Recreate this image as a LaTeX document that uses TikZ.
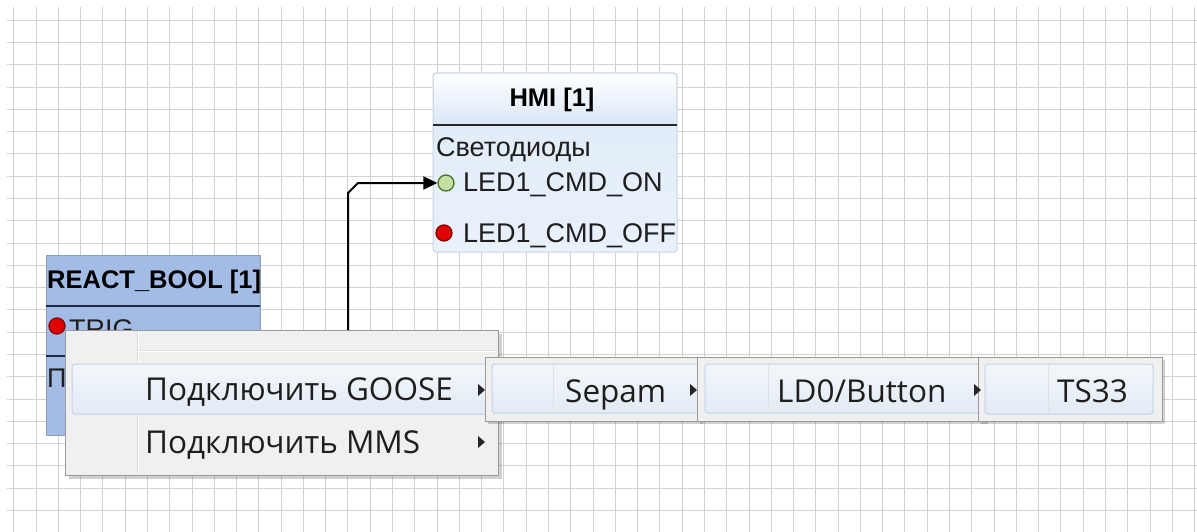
\documentclass[tikz,border=0pt]{standalone}
\usepackage{fontspec}
\setmainfont{Liberation Sans}
\newfontfamily\menufont{Open Sans}
\usetikzlibrary{arrows.meta}
\definecolor{gridc}{HTML}{D2D2D2}
\definecolor{hmiBorder}{HTML}{C9D3DE}
\definecolor{hmiHead}{HTML}{DAE7F6}
\definecolor{hmiBodyTop}{HTML}{DFEBF8}
\definecolor{hmiBodyBot}{HTML}{E9F1FB}
\definecolor{rbFill}{HTML}{A3BCE6}
\definecolor{rbBorder}{HTML}{8E9DB8}
\definecolor{rbSep}{HTML}{1C2748}
\definecolor{menuFill}{HTML}{F0F0F0}
\definecolor{menuBorder}{HTML}{9A9A9A}
\definecolor{hlTop}{HTML}{F3F7FB}
\definecolor{hlBot}{HTML}{E2EAF4}
\definecolor{hlBorder}{HTML}{BFD2E9}
\definecolor{ledRed}{HTML}{E00000}
\definecolor{ledRedD}{HTML}{8A0000}
\definecolor{ledGreen}{HTML}{C6DFA2}
\definecolor{ledGreenD}{HTML}{47752A}
\definecolor{txt}{HTML}{1E1E1E}
\tikzset{
  gridline/.style={gridc, line width=1},
  nodetext/.style={inner sep=0, anchor=base west, text=txt, font=\fontsize{27}{30}\selectfont},
  headtext/.style={inner sep=0, anchor=base, text=black, font=\bfseries\fontsize{25.5}{30}\selectfont},
  menutext/.style={inner sep=0, anchor=base west, text=txt, font=\menufont\fontsize{31.5}{34}\selectfont},
  led/.style={circle, inner sep=0, minimum size=16, line width=1.3},
  ledon/.style={led, fill=ledGreen, draw=ledGreenD},
  ledoff/.style={led, fill=ledRed, draw=ledRedD},
  conn/.style={black, line width=2, -{Triangle[length=14,width=13]}},
  menubox/.style={draw=menuBorder, fill=menuFill, line width=1},
  hlbox/.style={draw=hlBorder, rounded corners=3, top color=hlTop, bottom color=hlBot, line width=1},
  colsep/.style={draw=black!12, line width=1},
  subarrow/.style={fill=black!85},
}
\begin{document}
\begin{tikzpicture}[x=1pt,y=-1pt]
\useasboundingbox (0,0) rectangle (1197,532);
\fill[white] (0,0) rectangle (1197,532);
\begin{scope}
\clip (7,7) rectangle (1197,532);
\foreach \i in {0,...,53} {
  \pgfmathsetmacro{\gx}{round(13.3+22.28*\i)+0.5}
  \draw[gridline] (\gx,7) -- (\gx,532);
}
\foreach \j in {0,...,23} {
  \pgfmathsetmacro{\gy}{round(19.8+22.28*\j)+0.5}
  \draw[gridline] (7,\gy) -- (1197,\gy);
}
\end{scope}

% HMI block
\path[draw=hmiBorder, line width=1, rounded corners=3, top color=hmiBodyTop, bottom color=hmiBodyBot] (433,73) rectangle (677,252);
\shade[top color=white, bottom color=hmiHead, rounded corners=3] (434,74) rectangle (676,124);
\draw[black!85, line width=2] (433,125) -- (677,125);
\node[headtext] (hmititle) at (552,107) {HMI [1]};
\node[nodetext] (leds) at (436,157) {Светодиоды};
\node[ledon] (ledon) at (446,183) {};
\node[nodetext] (ledonlbl) at (463,192) {LED1\_CMD\_ON};
\node[ledoff] (ledoff) at (444,233) {};
\node[nodetext] (ledofflbl) at (463,242) {LED1\_CMD\_OFF};

% REACT_BOOL block
\path[draw=rbBorder, fill=rbFill, line width=1] (46,255) rectangle (260,435);
\draw[rbSep, line width=2] (46,306) -- (260,306);
\draw[rbSep, line width=2] (46,356) -- (260,356);
\node[headtext, anchor=base west] (rbtitle) at (47,288) {REACT\_BOOL [1]};
\node[ledoff] (trig) at (57,326) {};
\node[nodetext] (triglbl) at (69,338) {TRIG};
\node[nodetext] (plbl) at (47,387) {П};

% connector
\coordinate (src) at (348,345);
\coordinate (c1) at (348,193);
\coordinate (c2) at (358,183);
\draw[conn] (src) -- (c1) -- (c2) -- (ledon.west);

% context menu
\fill[black, opacity=0.18] (69,334) rectangle (502,479);
\path[menubox] (65,330) rectangle (498,475);
\draw[black!14, line width=1] (137,331) -- (137,474);
\draw[white, line width=1] (138.5,331) -- (138.5,474);
\draw[black!12, line width=1] (137,350) -- (496,350);
\draw[white, line width=1] (137,351.5) -- (496,351.5);
\path[hlbox] (72,364) rectangle (488,414);
\node[menutext] (goose) at (145,400) {Подключить GOOSE};
\node[menutext] (mms) at (145,453) {Подключить MMS};
\fill[subarrow] (478,384) -- (485,390) -- (478,396) -- cycle;
\fill[subarrow] (478,436) -- (485,442) -- (478,448) -- cycle;

% submenu Sepam
\fill[black, opacity=0.18] (488,360) rectangle (703,424);
\path[menubox] (485,357) rectangle (700,421);
\path[hlbox] (492,364) rectangle (703,413);
\draw[colsep] (553,366) -- (553,411);
\node[menutext] (sepam) at (565,402) {Sepam};

% submenu LD0
\fill[black, opacity=0.18] (700,360) rectangle (988,424);
\path[menubox] (697,357) rectangle (985,421);
\path[hlbox] (705,364) rectangle (984,413);
\draw[colsep] (768,366) -- (768,411);
\node[menutext] (ld0) at (777,402) {LD0/Button};

% submenu TS33
\fill[black, opacity=0.18] (981,360) rectangle (1165,424);
\path[menubox] (978,357) rectangle (1162,421);
\path[hlbox] (985,364) rectangle (1153,414);
\draw[colsep] (1048,366) -- (1048,412);
\node[menutext] (ts33) at (1057,402) {TS33};

\fill[subarrow] (690,384) -- (697,390) -- (690,396) -- cycle;
\fill[subarrow] (974,384) -- (981,390) -- (974,396) -- cycle;
\end{tikzpicture}
\end{document}
